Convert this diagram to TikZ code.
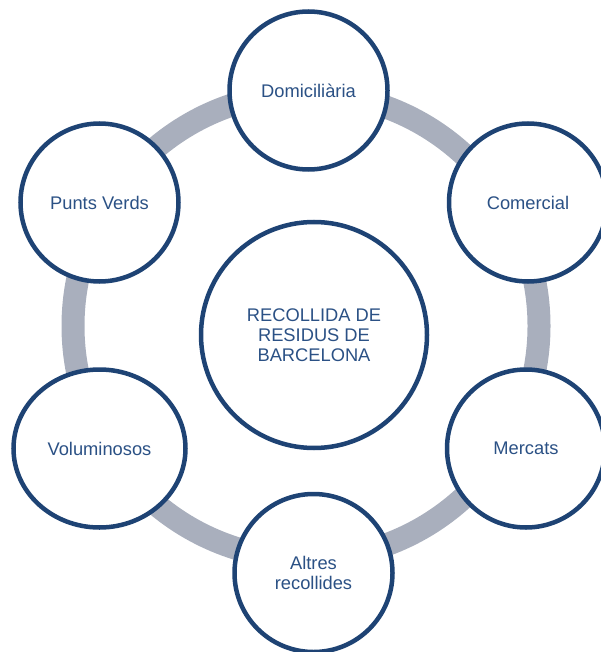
\documentclass[tikz,border=0pt]{standalone}
\usepackage{fontspec}
\setmainfont{Liberation Sans}
\usetikzlibrary{shapes.geometric}
\definecolor{navy}{HTML}{1E4374}
\definecolor{txtblue}{HTML}{2B5185}
\definecolor{ringgray}{HTML}{A9AFBD}
\tikzset{
  ringline/.style={draw=ringgray, line width=23pt},
  bubble/.style={ellipse, draw=navy, fill=white, line width=4.5pt, text=txtblue,
    font=\fontsize{18.3pt}{20pt}\selectfont, align=center, inner sep=0pt,
    minimum width=158pt, minimum height=158pt},
  bigbubble/.style={bubble, minimum width=226pt, minimum height=226pt}
}
\begin{document}
\begin{tikzpicture}[x=1pt,y=-1pt]
\useasboundingbox (0,0) rectangle (601,652);
\coordinate (ringc) at (306,326);
\draw[ringline] (ringc) circle[radius=233pt];
\node[bigbubble] (centre) at (314,335) {RECOLLIDA DE\\RESIDUS DE\\BARCELONA};
\node[bubble] (dom) at (308.5,90.5) {Domiciliària};
\node[bubble] (com) at (528,202.5) {Comercial};
\node[bubble] (mer) at (526,448.5) {Mercats};
\node[bubble] (alt) at (313.5,573) {Altres\\recollides};
\node[bubble, minimum width=172pt] (vol) at (99.5,448.5) {Voluminosos};
\node[bubble] (pun) at (99.5,202.5) {Punts Verds};
\end{tikzpicture}
\end{document}
